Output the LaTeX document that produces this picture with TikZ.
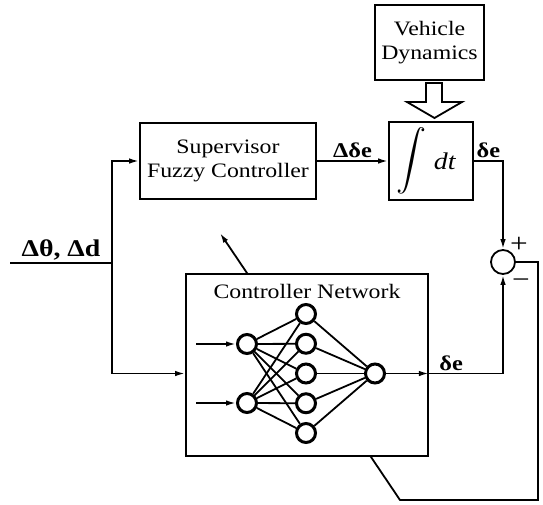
\documentclass[tikz,border=0pt]{standalone}
\usepackage{fontspec}
\setmainfont{Liberation Serif}[FakeStretch=1.16]
\usetikzlibrary{arrows.meta,calc}
\begin{document}
\begin{tikzpicture}[x=1pt,y=-1pt,line width=1.8pt,
  font=\fontsize{20.5}{24}\selectfont,
  >={Latex[length=10pt,width=5.5pt]},
  blk/.style={draw,fill=white,align=center,inner sep=0pt},
  neuron/.style={draw,circle,fill=white,line width=3pt,minimum size=19pt,inner sep=0pt},
  sig/.style={font=\fontsize{21}{24}\selectfont\bfseries,inner sep=2pt},
  sgn/.style={font=\fontsize{27}{28}\selectfont,inner sep=0pt}]
\useasboundingbox (0,0) rectangle (543,504);
\node[blk,minimum width=109pt,minimum height=75pt] (veh) at (429.5,42.5) {Vehicle\\Dynamics};
\node[blk,minimum width=176pt,minimum height=76pt] (sup) at (228,161) {Supervisor\\Fuzzy Controller};
\node[blk,minimum width=84pt,minimum height=78pt] (integ) at (431,161) {};
\node (intsym) at ($(integ.center)+(-20,0)$) {\fontsize{10}{12}\selectfont\scalebox{3}{$\displaystyle\int$}};
\node (dt) at ($(integ.center)+(14,0)$) {\fontsize{24}{26}\selectfont\textit{dt}};
\draw (426,83) -- (426,102) -- (407,102) -- (434.5,118) -- (462,102) -- (442,102) -- (442,83) -- cycle;
\node[draw,circle,minimum size=24pt,inner sep=0pt] (sum) at (503,262) {};
\node[sgn] (plus) at ($(sum)+(16,-17)$) {+};
\node[sgn] (minus) at ($(sum)+(18,22)$) {−};
\coordinate (fbR) at (538,500); \coordinate (fbL) at (400,500); \coordinate (adapt) at (220,233);
\draw[->] (sum.east) -| (fbR) -- (fbL) -- (adapt);
\node[blk,minimum width=242pt,minimum height=182pt] (net) at (307,365) {};
\node (netlbl) at ($(net.north)+(0,18)$) {Controller Network};
\foreach \i in {1,...,5} \node[neuron] (h\i) at (306,{284.25+29.75*\i}) {};
\node[neuron] (in1) at (247,344) {};
\node[neuron] (in2) at (247,403) {};
\node[neuron] (out) at (375,373.5) {};
\foreach \i in {1,2} {
  \coordinate (a\i) at ($(in\i)+(-51,0)$);
  \draw[->] (a\i) -- (in\i);
  \foreach \j in {1,...,5} \draw (in\i) -- (h\j);
}
\foreach \j in {1,...,5} \draw (h\j) -- (out);
\coordinate (inp) at (10,263); \coordinate (split) at (112,263);
\draw (inp) -- (split) node[sig,font=\fontsize{24}{26}\selectfont\bfseries,midway,above]{Δθ, Δd};
\draw[->] (split) |- (sup.west);
\draw[->] (split) |- (net.west |- h3);
\draw[->] (sup.east) -- (integ.west) node[sig,midway,above]{Δδe};
\draw[->] (integ.east) -| (sum.north) node[sig,pos=0.25,above]{δe};
\draw[->] (out) -- (out -| net.east);
\draw[->] (out -| net.east) -| (sum.south) node[sig,pos=0.15,above]{δe};
\end{tikzpicture}
\end{document}
